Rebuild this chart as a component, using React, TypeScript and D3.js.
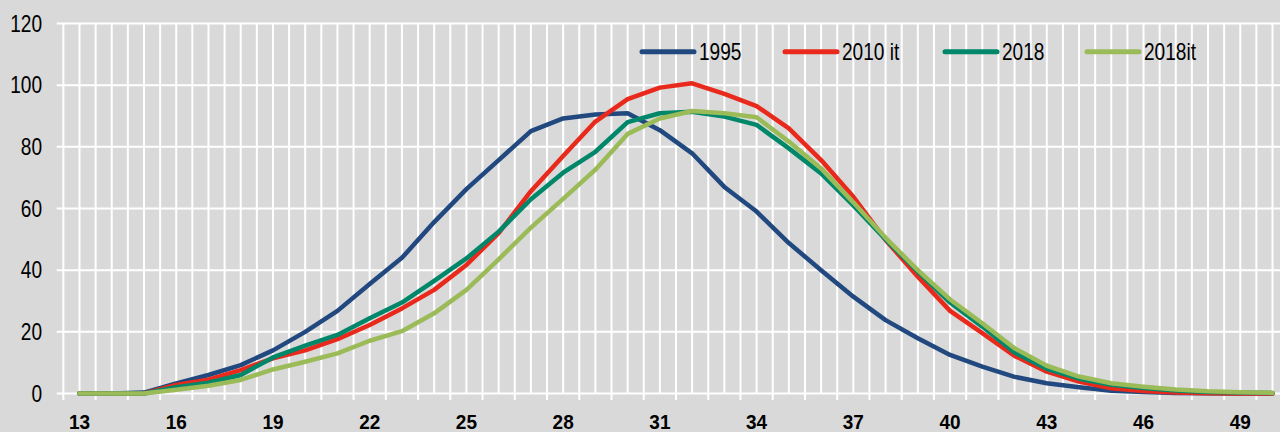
import React from "react";
import * as d3 from "d3";

const ages = [13,14,15,16,17,18,19,20,21,22,23,24,25,26,27,28,29,30,31,32,33,34,35,36,37,38,39,40,41,42,43,44,45,46,47,48,49,50];
const s1995 = [0,0,0.3,3.3,6,9.2,14,20,26.8,35.5,44,55.6,66.3,75.7,85.1,89.2,90.5,90.9,85.4,77.9,67,59,48.8,40,31.4,23.8,17.9,12.5,8.7,5.4,3.3,2,0.9,0.5,0.2,0.1,0,0];
const s2010it = [0,0,0,2.8,4.5,7.6,11.4,14,17.6,22.2,27.6,33.6,41.7,52,65.6,77,88.2,95.5,99.2,100.6,97.2,93.2,86,75.7,63.8,49.8,37.9,26.8,19.6,12.2,7.1,3.9,1.7,0.8,0.3,0.1,0,0];
const s2018 = [0,0,0,2,3.5,6,11.7,15.5,19,24.4,29.5,36.5,43.8,52.5,63,71.6,78.4,88,90.9,91.4,89.8,87.1,79.5,71.4,61,50,39.5,29.5,21.7,13.3,8,4.8,2.8,1.8,1,0.5,0.3,0.2];
const s2018it = [0,0,0,1.2,2.5,4.4,7.8,10.3,13,17.1,20.2,26,33.6,43.5,53.8,63.1,72.6,84.2,89.2,91.6,90.9,89.6,81.7,73,62,50.5,40,30.5,22.8,14.7,9,5.5,3.3,2.2,1.3,0.7,0.4,0.2];
const seriesNames = ["1995", "2010 it", "2018", "2018it"];
const seriesColors = ["#21497f", "#e8291c", "#00876a", "#9bbb59"];
const yTicks = [0, 20, 40, 60, 80, 100, 120];
const xLabels = [13, 16, 19, 22, 25, 28, 31, 34, 37, 40, 43, 46, 49];

const W = 1280;
const H = 432;
const FONT = "'Liberation Sans', Arial, sans-serif";
const NARROW = 0.83;

export default function App() {
  const x = d3.scaleLinear().domain([13, 50]).range([79.5, 1272.5]);
  const y = d3.scaleLinear().domain([0, 120]).range([393.5, 23.5]);
  const allSeries = [s1995, s2010it, s2018, s2018it];
  const line = d3
    .line<number>()
    .x((_, i) => x(ages[i]))
    .y((d) => y(d));

  const halfSteps = d3.range(12.5, 50.01, 0.5);
  const legendX = [640, 783, 943, 1085];

  return (
    <svg
      width={W}
      height={H}
      style={{ position: "absolute", left: 0, top: 0, background: "#d9d9d9" }}
      fontFamily={FONT}
    >
      <rect x={0} y={0} width={W} height={H} fill="#d9d9d9" />
      {yTicks.map((t) => (
        <line key={"h" + t} x1={56.7} x2={W} y1={y(t)} y2={y(t)} stroke="#fff" strokeWidth={2} />
      ))}
      {halfSteps.map((v) => {
        const isBetween = Math.abs(v - Math.round(v)) > 0.1;
        return (
          <line
            key={"v" + v}
            x1={x(v)}
            x2={x(v)}
            y1={y(120)}
            y2={isBetween ? 400 : y(0)}
            stroke="#fff"
            strokeWidth={2}
          />
        );
      })}
      {yTicks.map((t) => (
        <text
          key={"yl" + t}
          transform={`translate(42,${y(t)}) scale(${NARROW},1)`}
          dy="0.36em"
          textAnchor="end"
          fontSize={23}
          fill="#000"
        >
          {t}
        </text>
      ))}
      {xLabels.map((a) => (
        <text
          key={"xl" + a}
          transform={`translate(${x(a)},429) scale(0.95,1)`}
          textAnchor="middle"
          fontSize={20}
          fontWeight="bold"
          fill="#000"
        >
          {a}
        </text>
      ))}
      {allSeries.map((s, i) => (
        <path
          key={"s" + i}
          d={line(s) || ""}
          fill="none"
          stroke={seriesColors[i]}
          strokeWidth={4.5}
          strokeLinejoin="round"
          strokeLinecap="round"
        />
      ))}
      {seriesNames.map((n, i) => (
        <g key={"lg" + i}>
          <line
            x1={legendX[i] + 2}
            x2={legendX[i] + 54}
            y1={51.7}
            y2={51.7}
            stroke={seriesColors[i]}
            strokeWidth={5}
            strokeLinecap="round"
          />
          <text
            transform={`translate(${legendX[i] + 59},51.7) scale(${NARROW},1)`}
            dy="0.36em"
            fontSize={23}
            fill="#000"
          >
            {n}
          </text>
        </g>
      ))}
    </svg>
  );
}
